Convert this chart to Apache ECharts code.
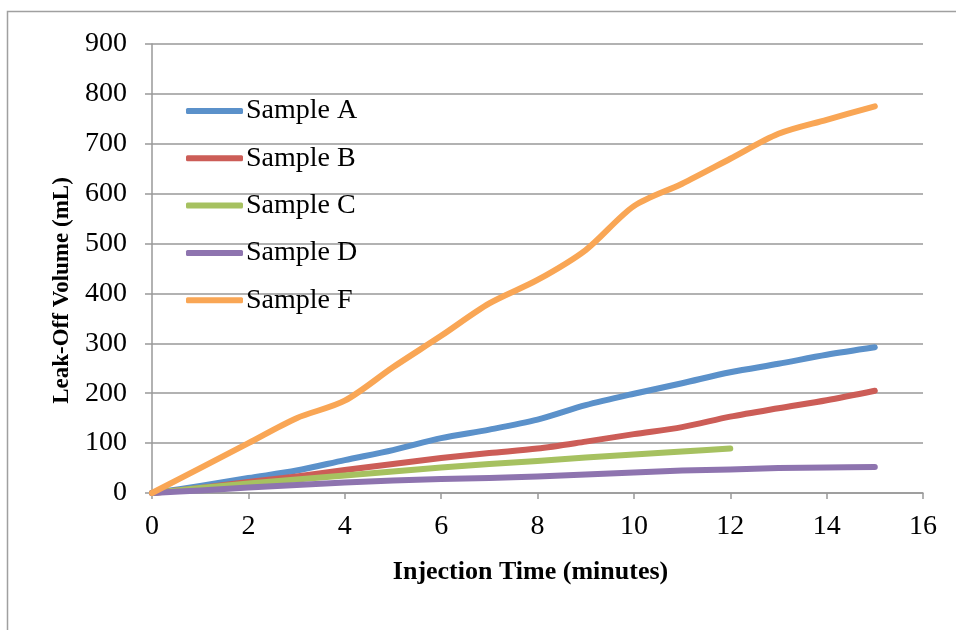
<!DOCTYPE html>
<html>
<head>
<meta charset="utf-8">
<script src="https://cdn.jsdelivr.net/npm/echarts@6/dist/echarts.min.js"></script>
<style>
  html, body { margin: 0; padding: 0; background: #fff; }
  #chart { width: 956px; height: 630px; }
</style>
</head>
<body>
<div id="chart"></div>
<script>
// injection time, minutes
var minutes = [0, 1, 2, 3, 4, 5, 6, 7, 8, 9, 10, 11, 12, 13, 14, 15];

// leak-off volume, mL
var sampleA = [0, 14, 30, 45, 66, 86, 110, 127, 147, 176, 199, 220, 242, 259, 277, 292];
var sampleB = [0, 10, 22, 33, 46, 58, 70, 80, 89, 103, 118, 132, 153, 170, 186, 205];
var sampleC = [0, 10, 19, 27, 35, 43, 51, 58, 64, 71, 77, 83, 89];
var sampleD = [0, 5, 11, 16, 21, 25, 28, 30, 33, 37, 41, 45, 47, 50, 51, 52];
var sampleF = [0, 50, 100, 150, 185, 252, 315, 380, 427, 487, 575, 620, 670, 720, 748, 775];

var names = ['Sample A', 'Sample B', 'Sample C', 'Sample D', 'Sample F'];
var colors = ['#5b91ca', '#cc5d57', '#a6c160', '#8e74af', '#f9a655'];

function pairs(vals) {
    return vals.map(function (v, i) { return [minutes[i], v]; });
}

var seriesData = [sampleA, sampleB, sampleC, sampleD, sampleF];
var series = [];
seriesData.forEach(function (vals, i) {
    series.push({
        name: names[i],
        type: 'line',
        smooth: 0.3,
        symbol: 'none',
        data: pairs(vals),
        lineStyle: { width: 6, color: colors[i], cap: 'round', join: 'round' },
        itemStyle: { color: colors[i] }
    });
});

var serif = '"Liberation Serif", "DejaVu Serif", serif';
var myChart = echarts.init(document.getElementById('chart'));
myChart.setOption({
    animation: false,
    backgroundColor: '#fff',
    graphic: [{
        type: 'rect',
        shape: { x: 7.5, y: 11.5, width: 1000, height: 1000 },
        style: { fill: 'none', stroke: '#a0a0a0', lineWidth: 1.5 },
        silent: true
    }],
    grid: { left: 152, right: 33, top: 44, bottom: 137 },
    legend: {
        orient: 'vertical',
        left: 186,
        top: 97,
        padding: 0,
        icon: 'roundRect',
        itemWidth: 57,
        itemHeight: 6,
        itemGap: 19.3,
        textStyle: { fontFamily: serif, fontSize: 28, color: '#000', lineHeight: 26, padding: [0, 0, 0, -2] },
        data: names
    },
    xAxis: {
        type: 'value',
        min: 0,
        max: 16,
        interval: 2,
        name: 'Injection Time (minutes)',
        nameLocation: 'middle',
        nameGap: 66,
        nameTextStyle: { fontFamily: serif, fontSize: 26, fontWeight: 'bold', color: '#000', padding: [0, 14, 0, 0] },
        axisLine: { lineStyle: { color: '#999', width: 1.5 } },
        axisTick: { show: true, length: 6, lineStyle: { color: '#999', width: 1.5 } },
        axisLabel: { fontFamily: serif, fontSize: 28, color: '#000', margin: 20 },
        splitLine: { show: false }
    },
    yAxis: {
        type: 'value',
        min: 0,
        max: 900,
        interval: 100,
        name: 'Leak-Off Volume (mL)',
        nameLocation: 'middle',
        nameGap: 78,
        nameTextStyle: { fontFamily: serif, fontSize: 23, fontWeight: 'bold', color: '#000', padding: [0, 44, 0, 0] },
        axisLine: { show: true, lineStyle: { color: '#999', width: 1.5 } },
        axisTick: { show: true, length: 7, lineStyle: { color: '#999', width: 1.5 } },
        axisLabel: { fontFamily: serif, fontSize: 28, color: '#000', margin: 25 },
        splitLine: { show: true, lineStyle: { color: '#999', width: 1.5 } }
    },
    series: series
});
</script>
</body>
</html>
